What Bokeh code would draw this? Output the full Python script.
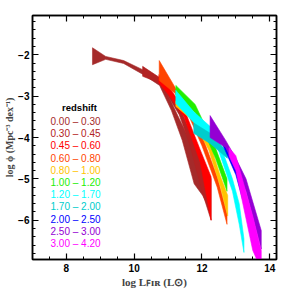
from bokeh.plotting import figure
from bokeh.models import Range1d, LinearAxis, SingleIntervalTicker, Label, CustomJSTickFormatter
from bokeh.embed import file_html
from bokeh.resources import INLINE

# ---- data: log L_FIR grid with lower / upper log phi per redshift bin ----
z0_L = [8.77, 9.16, 9.69, 10.25, 10.75, 11.10, 11.42, 11.77, 12.02, 12.22]
z0_lo = [-2.24, -2.11, -2.21, -2.47, -2.74, -3.35, -4.07, -5.12, -5.40, -5.72]
z0_hi = [-1.83, -2.04, -2.14, -2.36, -2.60, -3.15, -3.70, -4.30, -4.84, -5.00]

z1_L = [10.25, 10.75, 11.00, 11.33, 11.65, 12.00, 12.27]
z1_lo = [-2.52, -2.68, -3.00, -3.45, -4.20, -5.30, -6.00]
z1_hi = [-2.28, -2.55, -2.85, -3.25, -3.85, -4.60, -5.00]

z2_L = [10.73, 11.00, 11.47, 11.95, 12.27]
z2_lo = [-2.68, -2.95, -3.50, -4.60, -6.00]
z2_hi = [-2.48, -2.75, -3.30, -4.30, -4.95]

z3_L = [10.74, 11.23, 11.60, 12.00, 12.45, 12.74]
z3_lo = [-2.62, -2.95, -3.45, -4.20, -5.20, -6.10]
z3_hi = [-2.14, -2.82, -3.30, -3.95, -4.95, -5.85]

z4_L = [11.23, 11.75, 12.20, 12.55, 12.76]
z4_lo = [-3.25, -3.60, -4.30, -5.20, -5.90]
z4_hi = [-3.12, -3.45, -4.05, -4.95, -5.40]

z5_L = [11.23, 11.80, 12.00, 12.40, 12.74]
z5_lo = [-2.98, -3.40, -3.75, -4.50, -5.30]
z5_hi = [-2.74, -3.20, -3.55, -4.25, -5.00]

z6_L = [11.23, 11.76, 12.40, 12.90, 13.10, 13.24]
z6_lo = [-3.18, -3.64, -4.10, -5.30, -6.10, -6.78]
z6_hi = [-2.86, -3.38, -3.85, -5.00, -5.60, -6.45]

z7_L = [11.76, 12.25, 12.75]
z7_lo = [-3.90, -4.15, -4.50]
z7_hi = [-3.65, -3.90, -4.35]

z8_L = [12.60, 13.00, 13.20]
z8_lo = [-4.15, -4.90, -5.50]
z8_hi = [-4.05, -4.75, -5.30]

z9_L = [12.24, 12.70, 13.00, 13.30, 13.75]
z9_lo = [-4.00, -4.24, -4.75, -5.30, -6.70]
z9_hi = [-3.47, -4.07, -4.50, -5.00, -6.25]

z10_L = [12.80, 13.00, 13.50, 13.75]
z10_lo = [-4.45, -4.80, -6.73, -7.20]
z10_hi = [-4.25, -4.44, -5.90, -6.73]

redshift_bins = ["0.00 – 0.30", "0.30 – 0.45", "0.45 – 0.60", "0.60 – 0.80",
                 "0.80 – 1.00", "1.00 – 1.20", "1.20 – 1.70", "1.70 – 2.00",
                 "2.00 – 2.50", "2.50 – 3.00", "3.00 – 4.20"]
bin_colors = ["#a52a2a", "#b22222", "#ff0000", "#ff4500", "#ffc400", "#22ee00",
              "#00ffff", "#00cccc", "#0000ff", "#9400d3", "#ff00ff"]

bands = [(z0_L, z0_lo, z0_hi), (z1_L, z1_lo, z1_hi), (z2_L, z2_lo, z2_hi),
         (z3_L, z3_lo, z3_hi), (z4_L, z4_lo, z4_hi), (z5_L, z5_lo, z5_hi),
         (z6_L, z6_lo, z6_hi), (z7_L, z7_lo, z7_hi), (z8_L, z8_lo, z8_hi),
         (z9_L, z9_lo, z9_hi), (z10_L, z10_lo, z10_hi)]

p = figure(width=291, height=291, x_range=Range1d(7, 14.2), y_range=Range1d(-6.95, -1.05),
           output_backend="svg", toolbar_location=None,
           min_border_left=32, min_border_right=15, min_border_top=15, min_border_bottom=32)
p.grid.visible = False
p.outline_line_color = "black"
p.outline_line_width = 1.5
p.background_fill_color = "white"

for (L, lo, hi), c in zip(bands, bin_colors):
    xs = list(L) + list(L[::-1])
    ys = list(hi) + list(lo[::-1])
    p.patch(xs, ys, fill_color=c, line_color=c, line_width=0.6)

xt = SingleIntervalTicker(interval=2, num_minor_ticks=4)
yt = SingleIntervalTicker(interval=1, num_minor_ticks=5)

def style_axis(ax, labels=True):
    ax.axis_line_color = "black"
    ax.axis_line_width = 1.5
    ax.major_tick_in = 6
    ax.major_tick_out = 0
    ax.minor_tick_in = 3
    ax.minor_tick_out = 0
    ax.major_tick_line_width = 1.2
    ax.minor_tick_line_width = 1.0
    if labels:
        ax.major_label_text_font = "Liberation Sans"
        ax.major_label_text_font_style = "bold"
        ax.major_label_text_font_size = "10px"
        ax.major_label_text_color = "black"
    else:
        ax.formatter = CustomJSTickFormatter(code="return ''")
        ax.major_label_standoff = 0

xa = p.xaxis[0]
xa.ticker = xt
style_axis(xa)
xa.major_label_standoff = 4
xa.axis_label = "log Lꜰɪʀ (L⊙)"
xa.axis_label_text_font = "Liberation Serif"
xa.axis_label_text_font_style = "bold"
xa.axis_label_text_font_size = "11px"
xa.axis_label_standoff = 1

ya = p.yaxis[0]
ya.ticker = yt
style_axis(ya)
ya.major_label_standoff = 3
ya.axis_label = "log ϕ (Mpc⁻³ dex⁻¹)"
ya.axis_label_text_font = "Liberation Serif"
ya.axis_label_text_font_style = "bold"
ya.axis_label_text_font_size = "10px"
ya.axis_label_standoff = 0

top = LinearAxis(ticker=xt)
style_axis(top, labels=False)
p.add_layout(top, "above")
right = LinearAxis(ticker=yt)
style_axis(right, labels=False)
p.add_layout(right, "right")

# legend (screen units relative to the plot frame)
p.add_layout(Label(x=47, y=152, x_units="screen", y_units="screen", text="redshift",
                   text_font="Liberation Sans", text_font_style="bold", text_font_size="9.5px",
                   text_align="center", text_baseline="middle", text_color="black"))
for i, (lab, c) in enumerate(zip(redshift_bins, bin_colors)):
    p.add_layout(Label(x=18, y=138 - 12.2 * i, x_units="screen", y_units="screen", text=lab,
                       text_font="Liberation Sans", text_font_size="10px",
                       text_align="left", text_baseline="middle", text_color=c))

open("out.html", "w").write(file_html(p, INLINE))
